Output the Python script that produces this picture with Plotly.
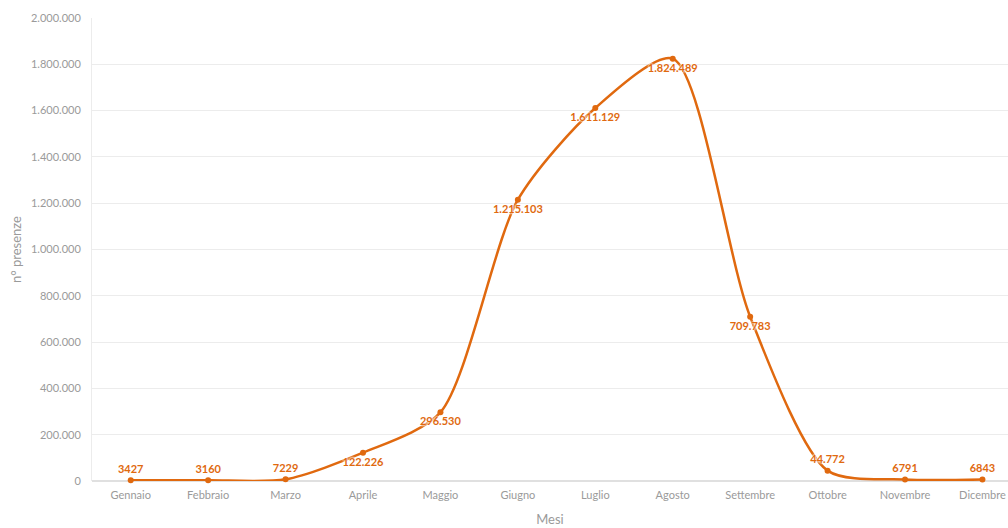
import plotly.graph_objects as go

mesi = ["Gennaio", "Febbraio", "Marzo", "Aprile", "Maggio", "Giugno",
        "Luglio", "Agosto", "Settembre", "Ottobre", "Novembre", "Dicembre"]
presenze = [3427, 3160, 7229, 122226, 296530, 1215103,
            1611129, 1824489, 709783, 44772, 6791, 6843]
etichette = ["3427", "3160", "7229", "122.226", "296.530", "1.215.103",
             "1.611.129", "1.824.489", "709.783", "44.772", "6791", "6843"]
posizioni = ["top center", "top center", "top center", "bottom center",
             "bottom center", "bottom center", "bottom center", "bottom center",
             "bottom center", "top center", "top center", "top center"]

arancio = "#e0690f"
grigio = "#9a9a9a"

fig = go.Figure(go.Scatter(
    x=mesi, y=presenze,
    mode="lines+markers+text",
    line=dict(color=arancio, width=2.5, shape="spline", smoothing=0.75),
    marker=dict(color=arancio, size=6),
    text=etichette,
    textposition=posizioni,
    textfont=dict(family="Lato", size=11, color=arancio, weight="bold",
                  shadow="0 0 2px white, 0 0 2px white, 0 0 3px white"),
    cliponaxis=False,
    hoverinfo="x+y",
))

fig.update_layout(
    width=1008, height=528,
    margin=dict(l=92, r=0, t=18, b=47),
    paper_bgcolor="white", plot_bgcolor="white",
    separators=",.",
    showlegend=False,
    font=dict(family="Lato", size=11, color=grigio),
)
fig.update_xaxes(
    range=[-0.5, 11.33],
    showgrid=False,
    showline=False,
    ticks="",
    ticklabelstandoff=6,
    tickfont=dict(size=11, color=grigio),
    title=dict(text="Mesi", font=dict(size=13, color=grigio), standoff=14),
)
fig.update_yaxes(
    range=[0, 2000000],
    dtick=200000,
    tickformat=",d",
    gridcolor="#ececec",
    zeroline=True, zerolinecolor="#e0e0e0",
    showline=True, linecolor="#ececec",
    ticklabelstandoff=8,
    tickfont=dict(size=11, color=grigio),
    title=dict(text="n° presenze", font=dict(size=13, color=grigio), standoff=6),
)

fig.write_html("out.html")
